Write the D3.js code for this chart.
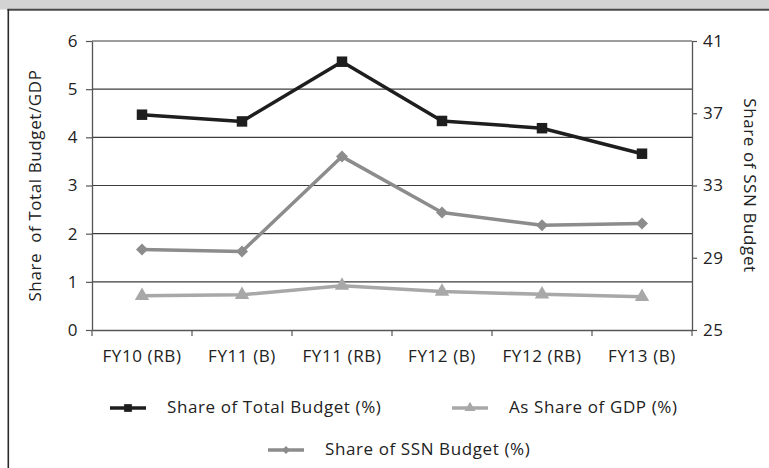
<!DOCTYPE html>
<html><head><meta charset="utf-8">
<script src="https://cdn.jsdelivr.net/npm/d3@7"></script>
<style>
html,body{margin:0;padding:0;background:#fff;}
svg{display:block;}
text{font-family:"Open Sans",sans-serif;fill:#222;}
</style></head>
<body>
<script>
const categories = ["FY10 (RB)","FY11 (B)","FY11 (RB)","FY12 (B)","FY12 (RB)","FY13 (B)"];
const shareTotalBudget = [4.47, 4.33, 5.57, 4.34, 4.19, 3.66];
const shareGDP = [0.71, 0.73, 0.92, 0.80, 0.74, 0.69];
const shareSSN = [29.45, 29.35, 34.6, 31.5, 30.8, 30.9];
const leftTicks = [0,1,2,3,4,5,6];
const rightTicks = [25,29,33,37,41];

const W = 769, H = 468;
const m = {left:92, right:692, top:41, bottom:330};
const svg = d3.select("body").append("svg").attr("width",W).attr("height",H);

// frame / title bar
svg.append("rect").attr("x",0).attr("y",0).attr("width",W).attr("height",9.5).attr("fill","#d3d3d3");
svg.append("line").attr("x1",7.5).attr("x2",W).attr("y1",9.8).attr("y2",9.8).attr("stroke","#4a4a4a").attr("stroke-width",2);
svg.append("line").attr("x1",8.3).attr("x2",8.3).attr("y1",9).attr("y2",H).attr("stroke","#2a2a2a").attr("stroke-width",1.6);

const x = d3.scaleBand().domain(categories).range([m.left,m.right]);
const yL = d3.scaleLinear().domain([0,6]).range([m.bottom,m.top]);
const yR = d3.scaleLinear().domain([25,41]).range([m.bottom,m.top]);

// gridlines
svg.append("g").selectAll("line").data(leftTicks.filter(d=>d>0)).join("line")
  .attr("x1",m.left).attr("x2",m.right).attr("y1",d=>yL(d)).attr("y2",d=>yL(d))
  .attr("stroke","#3c3c3c").attr("stroke-width",1.2);

const fs = "17px", ls = "0.6px";
// left axis
const gL = svg.append("g").attr("transform",`translate(${m.left},0)`)
  .call(d3.axisLeft(yL).tickValues(leftTicks).tickFormat(d3.format("d")).tickSize(6).tickPadding(8).tickSizeOuter(0));
// right axis
const gR = svg.append("g").attr("transform",`translate(${m.right},0)`)
  .call(d3.axisRight(yR).tickValues(rightTicks).tickFormat(d3.format("d")).tickSize(5).tickPadding(6).tickSizeOuter(0));
// bottom axis
const gB = svg.append("g").attr("transform",`translate(0,${m.bottom})`)
  .call(d3.axisBottom(x).tickSize(0).tickPadding(20).tickSizeOuter(0));
// boundary ticks on x axis
const bounds = categories.map(c=>x(c)).concat([m.right]);
svg.append("g").selectAll("line").data(bounds).join("line")
  .attr("x1",d=>d).attr("x2",d=>d).attr("y1",m.bottom).attr("y2",m.bottom+6)
  .attr("stroke","#555").attr("stroke-width",1.2);

[gL,gR,gB].forEach(g=>{
  g.select(".domain").attr("stroke","#555").attr("stroke-width",1.3);
  g.selectAll(".tick line").attr("stroke","#555").attr("stroke-width",1.2);
  g.selectAll(".tick text").attr("font-size",fs).style("letter-spacing",ls).attr("fill","#222")
    .attr("font-family","Open Sans");
});

// axis titles
svg.append("text").attr("transform",`translate(36,${(m.top+m.bottom)/2}) rotate(-90)`)
  .attr("text-anchor","middle").attr("dominant-baseline","middle")
  .attr("font-size",fs).style("letter-spacing",ls).style("white-space","pre").text("Share  of Total Budget/GDP");
svg.append("text").attr("transform",`translate(749,${(m.top+m.bottom)/2}) rotate(90)`)
  .attr("text-anchor","middle").attr("dominant-baseline","middle")
  .attr("font-size",fs).style("letter-spacing",ls).text("Share of SSN Budget");

const cx = d => x(d) + x.bandwidth()/2;

function series(vals, yScale, color, marker){
  const pts = categories.map((c,i)=>[cx(c), yScale(vals[i])]);
  svg.append("path").datum(pts).attr("d",d3.line()).attr("fill","none")
    .attr("stroke",color).attr("stroke-width",3.5).attr("stroke-linejoin","round");
  svg.append("g").selectAll("path").data(pts).join("path")
    .attr("transform",d=>`translate(${d[0]},${d[1]})`)
    .attr("d",marker).attr("fill",color);
}
const sq = d3.symbol().type(d3.symbolSquare).size(110)();
const tri = d3.symbol().type(d3.symbolTriangle).size(90)();
const dia = "M0,-6L6,0L0,6L-6,0Z";

series(shareSSN, yR, "#8c8c8c", dia);
series(shareGDP, yL, "#a8a8a8", tri);
series(shareTotalBudget, yL, "#1e1e1e", sq);

// legend
const legend = [
  {label:"Share of Total Budget (%)", color:"#1e1e1e", marker:d3.symbol().type(d3.symbolSquare).size(60)(), x:110, y:408},
  {label:"As Share of GDP (%)", color:"#a8a8a8", marker:d3.symbol().type(d3.symbolTriangle).size(50)(), x:452, y:408},
  {label:"Share of SSN Budget (%)", color:"#8c8c8c", marker:"M0,-4L4,0L0,4L-4,0Z", x:268, y:450}
];
const lg = svg.append("g").selectAll("g").data(legend).join("g")
  .attr("transform",d=>`translate(${d.x},${d.y})`);
lg.append("line").attr("x1",0).attr("x2",36).attr("stroke",d=>d.color).attr("stroke-width",3.5);
lg.append("path").attr("transform","translate(18,0)").attr("d",d=>d.marker).attr("fill",d=>d.color);
lg.append("text").attr("x",57).attr("dominant-baseline","middle").attr("font-size",fs)
  .style("letter-spacing",ls).text(d=>d.label);
</script>
</body></html>
